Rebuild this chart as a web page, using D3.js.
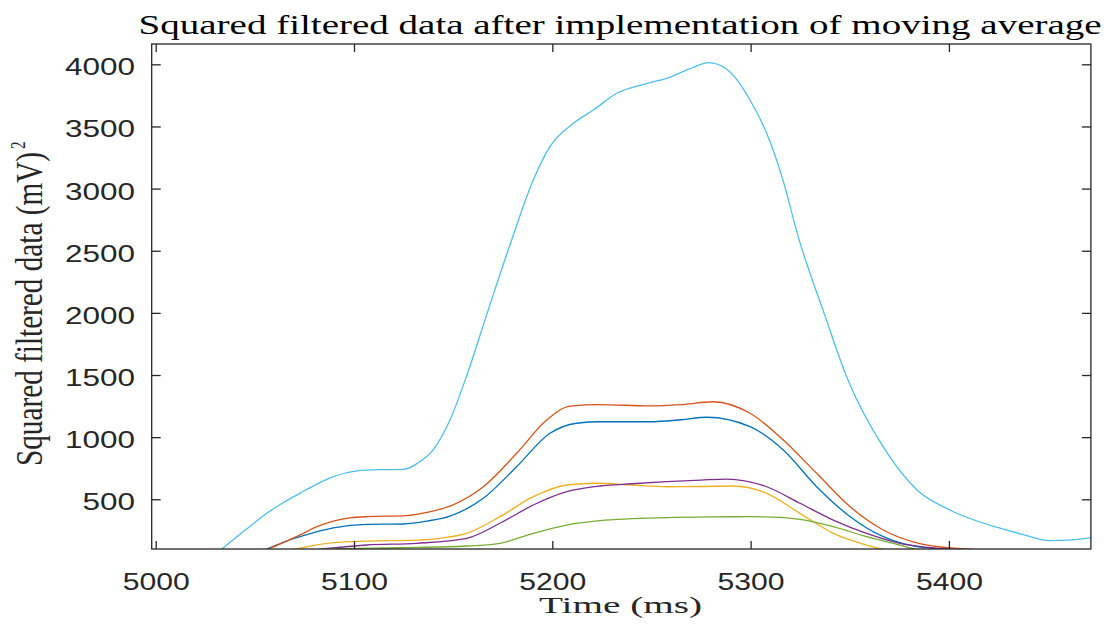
<!DOCTYPE html>
<html><head><meta charset="utf-8">
<script src="https://cdn.jsdelivr.net/npm/d3@7"></script>
<style>body{margin:0;background:#fff}svg{display:block}</style>
</head><body>
<svg id="c" width="1113" height="630"></svg>
<script>
// ---- data ----
const xTicks = [5000, 5100, 5200, 5300, 5400];
const yTicks = [500, 1000, 1500, 2000, 2500, 3000, 3500, 4000];

const tBlue = [5045, 5056, 5064, 5072.8, 5089.6, 5106.4, 5124.9, 5137, 5148.4, 5165.2, 5182, 5198.8, 5212.3, 5224, 5249, 5265, 5277.9, 5299.7, 5316.5, 5333.3, 5350.2, 5366.9, 5383.8, 5397.5, 5410];
const vBlue = [30, 100, 152, 199, 270, 298, 301, 325, 365, 508, 762, 1031, 1112, 1124, 1124, 1140, 1160, 1084, 897, 601, 360, 199, 119, 100, 88];

const tRed = [5045, 5056.8, 5064, 5072.8, 5081, 5089.6, 5098, 5106.4, 5126.6, 5137, 5148.4, 5165.2, 5182, 5197.2, 5209, 5224, 5249, 5265, 5281.2, 5299.7, 5316.5, 5333.3, 5350.2, 5366.9, 5383.8, 5395, 5408.3, 5420];
const vRed = [25, 100, 150, 213, 278, 325, 350, 360, 368, 395, 445, 601, 870, 1138, 1250, 1262, 1251, 1262, 1285, 1192, 977, 709, 440, 253, 150, 118, 100, 90];

const tYellow = [5060, 5070.7, 5089.6, 5106.4, 5131.6, 5145, 5156.8, 5173.6, 5190.4, 5207.3, 5222.4, 5240, 5257.7, 5275, 5291.3, 5308.1, 5324.9, 5341.7, 5358.5, 5366.1, 5375];
const vYellow = [60, 100, 151, 164, 172, 190, 226, 360, 521, 615, 629, 615, 601, 603, 607, 548, 387, 226, 132, 100, 75];

const tPurple = [5075, 5087.9, 5106.4, 5131.6, 5156.8, 5173.6, 5190.4, 5207.3, 5224, 5240, 5257.7, 5275, 5288, 5308.1, 5324.9, 5341.7, 5358.5, 5375.3, 5390, 5397.2, 5405];
const vPurple = [80, 106, 132, 146, 186, 307, 454, 561, 607, 625, 642, 655, 663, 601, 468, 333, 226, 146, 112, 100, 90];

const tGreen = [5075, 5087.9, 5123.2, 5156.8, 5173.6, 5190.4, 5207.3, 5224, 5257.7, 5280, 5299.7, 5315, 5324.9, 5341.7, 5358.5, 5375.3, 5381.2, 5390];
const vGreen = [90, 100, 110, 124, 146, 226, 293, 328, 352, 358, 360, 355, 339, 280, 199, 132, 106, 80];

const tCyan = [5025, 5033.4, 5045, 5056, 5064, 5072.7, 5081, 5089.6, 5101.4, 5112, 5124.9, 5132, 5140, 5148.4, 5157.6, 5167, 5179.5, 5190.4, 5198.8, 5210.6, 5220.7, 5232.5, 5249.4, 5257.7, 5271.1, 5278.7, 5288, 5299.7, 5308.1, 5316.3, 5324, 5337, 5349.1, 5366.8, 5383.9, 5400.5, 5425.7, 5437, 5450.7, 5460, 5471.6];
const vCyan = [-10, 100, 250, 387, 470, 548, 620, 682, 728, 738, 740, 790, 900, 1138, 1530, 1990, 2587, 3069, 3337, 3525, 3632, 3767, 3852, 3887, 3976, 4013, 3960, 3713, 3445, 3069, 2613, 2000, 1460, 923, 575, 414, 267, 218, 168, 172, 190];

const seriesT = [tBlue, tRed, tYellow, tPurple, tGreen, tCyan];
const seriesV = [vBlue, vRed, vYellow, vPurple, vGreen, vCyan];
const colors = ["#0072BD", "#D95319", "#EDB120", "#7E2F8E", "#77AC30", "#4DBEEE"];

// ---- layout ----
const L = 151.7, R = 1090.9, T = 44, B = 549;
const x = d3.scaleLinear().domain([4997.98, 5471.6]).range([L, R]);
const y = d3.scaleLinear().domain([100, 4163.5]).range([B, T]);
const svg = d3.select("#c");
const axisCol = "#262626";

svg.append("clipPath").attr("id", "clip").append("rect")
  .attr("x", L).attr("y", T).attr("width", R - L).attr("height", B - T);

const line = d3.line().x(d => x(d[0])).y(d => y(d[1])).curve(d3.curveMonotoneX);
const plot = svg.append("g").attr("clip-path", "url(#clip)");
seriesT.forEach((ts, i) => {
  const pts = ts.map((t, j) => [t, seriesV[i][j]]);
  plot.append("path").attr("d", line(pts)).attr("fill", "none")
    .attr("stroke", colors[i]).attr("stroke-width", 1.3);
});

// ---- axes ----
function styleAxis(g) {
  g.selectAll(".domain").remove();
  g.selectAll(".tick line").attr("stroke", axisCol).attr("stroke-width", 1.3);
}
svg.append("g").attr("transform", `translate(0,${B})`)
  .call(d3.axisBottom(x).tickValues(xTicks).tickSize(-8).tickFormat(d3.format("d")))
  .call(styleAxis)
  .call(g => g.selectAll(".tick text").attr("y", 41).attr("dy", null)
    .attr("fill", axisCol)
    .attr("font-size", 23).attr("textLength", 67).attr("lengthAdjust", "spacingAndGlyphs"));
svg.append("g").attr("transform", `translate(0,${T})`)
  .call(d3.axisTop(x).tickValues(xTicks).tickSize(-8).tickFormat(""))
  .call(styleAxis);
svg.append("g").attr("transform", `translate(${L},0)`)
  .call(d3.axisLeft(y).tickValues(yTicks).tickSize(-9).tickFormat(d3.format("d")))
  .call(styleAxis)
  .call(g => g.selectAll(".tick text").attr("x", -16.7).attr("dy", 10.5).attr("y", 0)
    .attr("fill", axisCol)
    .attr("font-size", 23).attr("text-anchor", "end")
    .attr("textLength", d => String(d).length * 17.5).attr("lengthAdjust", "spacingAndGlyphs"));
svg.append("g").attr("transform", `translate(${R},0)`)
  .call(d3.axisRight(y).tickValues(yTicks).tickSize(-9).tickFormat(""))
  .call(styleAxis);
svg.selectAll(".tick text").attr("font-family", "Liberation Sans, Arial, sans-serif");
svg.append("rect").attr("x", L).attr("y", T).attr("width", R - L).attr("height", B - T)
  .attr("fill", "none").attr("stroke", axisCol).attr("stroke-width", 1.3);

// ---- texts ----
const serif = "Liberation Serif, Times New Roman, serif";
svg.append("text").attr("x", 138.6).attr("y", 33.5)
  .attr("font-family", serif).attr("font-size", 28).attr("fill", "#000")
  .attr("textLength", 963).attr("lengthAdjust", "spacingAndGlyphs")
  .text("Squared filtered data after implementation of moving average");
svg.append("text").attr("x", 539).attr("y", 613)
  .attr("font-family", serif).attr("font-size", 24).attr("fill", axisCol)
  .attr("textLength", 163).attr("lengthAdjust", "spacingAndGlyphs")
  .text("Time (ms)");
svg.append("text").attr("transform", "translate(42,466) scale(1.5,1) rotate(-90)")
  .attr("font-family", serif).attr("font-size", 25).attr("fill", axisCol)
  .attr("textLength", 314).attr("lengthAdjust", "spacingAndGlyphs")
  .text("Squared filtered data (mV)");
svg.append("text").attr("transform", "translate(25,149) scale(1.4,1) rotate(-90)")
  .attr("font-family", serif).attr("font-size", 15).attr("fill", axisCol)
  .text("2");
</script>
</body></html>
